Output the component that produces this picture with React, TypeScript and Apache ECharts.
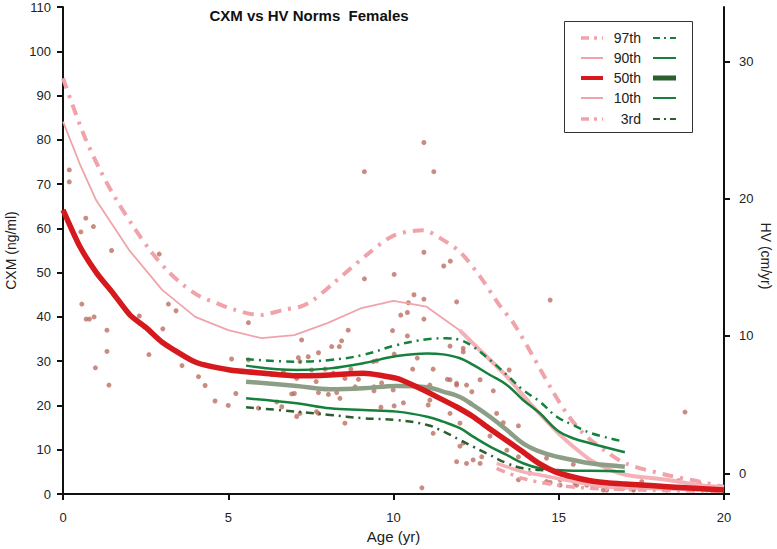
import React, { useEffect, useRef } from "react";
import * as echarts from "echarts";

// ---- CXM percentile curves (left axis, ng/ml) ----
const cxm97Ages = [0, 0.61, 1.12, 1.62, 2.13, 2.63, 3.14, 3.64, 4.15, 4.65, 5.15, 5.96, 6.67, 7.17, 7.57, 8.18, 9.19, 9.99, 10.9, 11.41, 12.01, 12.62, 13.22, 13.63, 14.23, 14.74, 15.24, 15.74, 16.45, 17.06, 18.27, 19.27, 20];
const cxm97Vals = [93.9, 81.5, 73.2, 66.4, 60.4, 55.1, 50.6, 47.2, 44.6, 43.1, 41.7, 40.4, 41.6, 42.3, 43.8, 47.6, 54.0, 58.3, 59.6, 57.8, 54.7, 49.1, 42.5, 38.6, 31.0, 24.2, 18.2, 13.7, 9.5, 6.8, 4.3, 2.8, 1.6];
const cxm90Ages = [0, 0.5, 1, 2, 3, 4, 5, 6, 7, 8, 9, 10, 11, 12];
const cxm90Vals = [84.1, 74.7, 66.4, 55.1, 46.1, 40.0, 37.0, 35.2, 35.9, 38.6, 41.9, 43.6, 42.3, 37.0];
const cxm90LateAges = [12.0, 12.41, 13.43, 14.13, 14.94, 15.44, 15.95, 16.45, 17.05, 18.27, 19.27, 20];
const cxm90LateVals = [37.0, 34.0, 26.5, 20.5, 14.1, 10.7, 7.7, 5.8, 4.3, 3.2, 2.0, 1.6];
const cxm50Ages = [0, 0.51, 1.02, 1.52, 2.03, 2.54, 3.0, 4.0, 5.05, 6.06, 7.07, 8.08, 9.09, 10.1, 10.7, 11.3, 11.9, 12.4, 12.9, 13.4, 13.9, 14.4, 14.9, 15.4, 15.95, 16.45, 17.0, 17.5, 18.27, 20];
const cxm50Vals = [64.2, 55.9, 49.9, 45.3, 40.4, 37.4, 34.3, 29.8, 28.0, 27.3, 26.7, 26.9, 27.3, 26.1, 24.2, 22.0, 19.7, 17.5, 14.8, 12.2, 9.6, 6.9, 5.0, 3.9, 3.0, 2.55, 2.26, 2.03, 1.65, 0.9];
const cxm10Ages = [13.12, 13.92, 14.43, 15.44, 16.45, 17.46, 20];
const cxm10Vals = [6.9, 5.0, 4.3, 2.8, 1.6, 1.3, 0.8];
const cxm3Ages = [13.12, 13.92, 14.94, 15.95, 17.5, 20];
const cxm3Vals = [5.8, 3.5, 2.0, 1.3, 0.9, 0.6];

// ---- HV percentile curves (right axis, cm/yr) ----
const hvAges = [5.54, 7.07, 8.08, 9.08, 10.1, 11.02, 11.5, 12.01, 12.41, 12.92, 13.43, 13.92, 14.43, 14.94, 15.43, 15.95, 17.0];
const hv97Ages = [5.54, 7.07, 8.08, 9.08, 10.1, 11.02, 11.6, 12.01, 12.41, 12.92, 13.43, 13.92, 14.43, 14.94, 15.43, 15.95, 16.85];
const hv97Vals = [8.32, 8.13, 8.25, 8.62, 9.34, 9.76, 9.83, 9.71, 9.22, 8.25, 7.16, 6.07, 5.21, 4.12, 3.52, 2.94, 2.37];
const hv90Vals = [7.84, 7.52, 7.64, 8.01, 8.54, 8.73, 8.66, 8.38, 7.89, 7.16, 6.43, 5.34, 4.37, 3.16, 2.55, 2.19, 1.53];
const hv50Vals = [6.67, 6.36, 6.12, 6.19, 6.36, 6.26, 5.95, 5.56, 4.97, 4.12, 3.15, 2.18, 1.57, 1.21, 0.97, 0.73, 0.48];
const hv10Vals = [5.46, 5.10, 4.73, 4.61, 4.49, 4.12, 3.76, 3.28, 2.67, 1.94, 1.33, 0.73, 0.36, 0.24, 0.19, 0.19, 0.12];
const hv3Ages = [5.54, 7.07, 8.08, 9.08, 10.1, 11.02, 11.5, 12.01, 12.41, 12.92, 13.43, 13.92, 14.43, 14.83];
const hv3Vals = [4.81, 4.49, 4.25, 4.01, 3.88, 3.52, 3.05, 2.43, 1.94, 1.33, 0.73, 0.36, 0.24, 0.19];

// ---- Individual CXM measurements ----
const dotAges = [0.19, 0.19, 0.69, 0.54, 0.92, 1.47, 2.91, 0.57, 0.70, 0.80, 0.94, 2.31, 3.19, 3.42, 5.61, 3.02, 1.33, 0.98, 1.39, 1.33,
  5.1, 5.23, 5.61, 7.22, 8.63, 8.43, 8.13, 8.36, 7.73, 7.42, 7.12, 7.17, 7.52, 7.93, 8.18, 8.71, 6.09, 6.31, 6.67, 7.07,
  7.66, 7.73, 8.03, 8.28, 8.38, 8.84, 8.94, 8.53, 6.92, 7.0, 6.47, 6.62, 5.91, 7.17, 7.07, 7.67, 7.73, 8.53, 9.39, 9.49,
  10.02, 9.97, 10.42, 10.22, 10.42, 10.45, 10.62, 10.92, 10.92, 10.58, 10.72, 11.2, 11.63, 11.1, 9.41, 9.41, 9.64, 9.99, 10.3, 10.02,
  9.62, 11.05, 11.1, 10.92, 9.12, 11.22, 10.92, 9.12, 10.02, 11.52, 11.72, 11.91, 12.11, 12.11, 11.71, 12.62, 13.02, 12.21, 11.91, 12.37,
  12.01, 11.2, 13.12, 13.32, 12.92, 12.11, 12.01, 11.91, 12.21, 12.41, 12.67, 12.62, 13.5, 11.71, 14.74, 11.71, 11.91, 12.33, 13.78, 13.43,
  13.78, 14.63, 15.44, 14.13, 13.78, 14.63, 15.04, 15.24, 15.49, 15.54, 15.85, 16.05, 16.45, 16.95, 17.26, 15.04, 14.74, 16.25, 17.51, 18.62,
  19.25, 16.85, 17.26, 18.27, 19.48, 16.35, 18.82, 10.86, 2.6, 3.6, 4.3, 4.6, 5.0, 4.1];
const dotVals = [73.2, 70.5, 62.3, 59.2, 60.4, 55.0, 54.2, 42.9, 39.5, 39.5, 40.0, 40.2, 42.9, 41.4, 38.7, 37.3, 37.0, 28.5, 24.6, 32.2,
  30.5, 22.7, 30.3, 34.8, 37.0, 34.6, 33.3, 33.3, 31.9, 31.0, 30.8, 29.9, 28.0, 28.2, 27.3, 28.2, 27.3, 27.0, 27.6, 26.1,
  25.4, 22.9, 22.5, 22.9, 21.6, 24.2, 25.9, 26.1, 22.6, 22.7, 20.8, 19.7, 19.4, 18.2, 17.5, 18.6, 18.2, 16.0, 29.9, 30.1,
  31.6, 36.9, 35.7, 40.4, 41.0, 43.2, 45.0, 44.0, 39.5, 28.2, 30.7, 28.2, 25.9, 24.6, 24.2, 23.3, 25.1, 23.5, 20.6, 19.9,
  19.6, 20.1, 21.2, 79.4, 72.8, 72.8, 54.6, 48.6, 49.6, 51.5, 52.6, 43.4, 32.9, 32.1, 33.4, 25.8, 23.3, 24.6, 24.6, 23.1,
  16.0, 13.7, 18.2, 16.1, 13.1, 11.5, 10.8, 7.3, 6.9, 7.7, 8.4, 6.9, 28.0, 18.2, 43.8, 25.8, 25.0, 20.5, 15.4, 9.9,
  8.4, 8.1, 6.7, 4.7, 3.2, 2.8, 3.2, 3.5, 2.4, 2.0, 2.0, 1.6, 0.9, 1.3, 0.9, 2.0, 2.6, 2.0, 2.8, 3.0,
  2.4, 1.3, 1.1, 0.9, 0.9, 0.9, 18.5, 1.4, 31.5, 29.0, 24.5, 21.0, 20.0, 26.5];

// ---- Axis ticks ----
const hvTickLabels = [0, 10, 20, 30];
const hvAxisMin = -1.51;
const hvAxisMax = 33.96;

const zip = (a: number[], b: number[]) => a.map((x, i) => [x, b[i]]);

const FONT = '"Liberation Sans", Arial, sans-serif';
const PINK = "#f1a3ab";
const PINK_LIGHT = "#f4b2b8";
const RED = "#d6191d";
const GREEN = "#16813d";
const DKGREEN = "#2b5f2f";
const GRAY = "#8c9e85";

export default function App() {
  const ref = useRef<HTMLDivElement>(null);
  useEffect(() => {
    if (!ref.current) return;
    const chart = echarts.init(ref.current, null, { renderer: "svg" });
    const line = (name: string, data: number[][], color: string, width: number, axis: number, dash?: number[], smooth: number | boolean = false, z = 3) => ({
      name, type: "line", data, yAxisIndex: axis, showSymbol: false, symbol: "none", smooth, z,
      lineStyle: { color, width, type: dash ? dash : "solid", cap: "butt", join: "round" },
      silent: true,
    });
    const legendRows = [38, 58, 78, 98, 119];
    const legendLabels = ["97th", "90th", "50th", "10th", "3rd"];
    const lg: any[] = [
      { type: "rect", shape: { x: 564.5, y: 21.5, width: 128, height: 111 }, style: { fill: "#fff", stroke: "#333", lineWidth: 1 }, z: 10 },
    ];
    const leftStyles = [
      { stroke: PINK, lineWidth: 3.5, lineDash: [8, 5, 3, 5] },
      { stroke: PINK, lineWidth: 2 },
      { stroke: RED, lineWidth: 4 },
      { stroke: PINK, lineWidth: 2 },
      { stroke: PINK, lineWidth: 3.5, lineDash: [8, 5, 3, 5] },
    ];
    const rightStyles = [
      { stroke: GREEN, lineWidth: 2, lineDash: [7, 4, 2, 4] },
      { stroke: GREEN, lineWidth: 2 },
      { stroke: DKGREEN, lineWidth: 5 },
      { stroke: GREEN, lineWidth: 2 },
      { stroke: DKGREEN, lineWidth: 2, lineDash: [7, 4, 2, 4] },
    ];
    legendRows.forEach((y, i) => {
      lg.push({ type: "line", shape: { x1: 581, y1: y, x2: 603, y2: y }, style: leftStyles[i], z: 11 });
      lg.push({ type: "line", shape: { x1: 653, y1: y, x2: 676, y2: y }, style: rightStyles[i], z: 11 });
      lg.push({
        type: "text", x: 641, y: y, z: 11,
        style: { text: legendLabels[i], font: `14px ${FONT}`, fill: "#222", align: "right", textAlign: "right", verticalAlign: "middle", textVerticalAlign: "middle" },
      });
    });
    lg.push({
      type: "text", x: 309, y: 15, z: 11,
      style: { text: "CXM vs HV Norms  Females", font: `bold 15px ${FONT}`, fill: "#111", align: "center", textAlign: "center", verticalAlign: "middle", textVerticalAlign: "middle" },
    });
    lg.push({
      type: "text", x: 766, y: 256, rotation: -Math.PI / 2, z: 11,
      style: { text: "HV (cm/yr)", font: `14px ${FONT}`, fill: "#222", align: "center", textAlign: "center", verticalAlign: "middle", textVerticalAlign: "middle" },
    });

    const axisCommon = {
      axisLine: { show: true, lineStyle: { color: "#111", width: 2 } },
      axisTick: { show: true, length: 6, lineStyle: { color: "#111", width: 2 } },
      splitLine: { show: false },
    };

    chart.setOption({
      animation: false,
      backgroundColor: "#fff",
      textStyle: { fontFamily: FONT },
      grid: { left: 63, right: 53, top: 7, bottom: 55, containLabel: false, outerBoundsMode: "none" },
      xAxis: {
        type: "value", min: 0, max: 20, interval: 5, ...axisCommon,
        axisLabel: { margin: 17, fontSize: 13, color: "#222", fontFamily: FONT },
        name: "Age (yr)", nameLocation: "middle", nameGap: 35,
        nameTextStyle: { fontSize: 15, color: "#222", fontFamily: FONT },
      },
      yAxis: [
        {
          type: "value", min: 0, max: 110, interval: 10, position: "left", ...axisCommon,
          axisLabel: { margin: 12, fontSize: 13, color: "#222", fontFamily: FONT },
          name: "CXM (ng/ml)", nameLocation: "middle", nameGap: 43, nameRotate: 90,
          nameTextStyle: { fontSize: 14, color: "#222", fontFamily: FONT },
        },
        {
          type: "value", min: hvAxisMin, max: hvAxisMax, position: "right", ...axisCommon,
          axisTick: { show: true, length: 6, lineStyle: { color: "#111", width: 2 }, customValues: [hvAxisMin, ...hvTickLabels] },
          axisLabel: { margin: 15, fontSize: 13, color: "#222", fontFamily: FONT, customValues: hvTickLabels },
        },
      ],
      graphic: { elements: lg },
      series: [
        {
          name: "CXM", type: "scatter", yAxisIndex: 0, data: zip(dotAges, dotVals), symbolSize: 5, z: 2, silent: true,
          itemStyle: { color: "#b86c5d", opacity: 0.78 },
        },
        line("CXM 97th", zip(cxm97Ages, cxm97Vals), PINK, 4, 0, [11, 7, 3, 7], 0.3),
        line("CXM 90th", zip(cxm90Ages, cxm90Vals), PINK, 1.8, 0),
        line("CXM 90th late", zip(cxm90LateAges, cxm90LateVals), PINK_LIGHT, 4, 0, undefined, 0.3),
        line("CXM 10th", zip(cxm10Ages, cxm10Vals), PINK_LIGHT, 3.5, 0, undefined, 0.3),
        line("CXM 3rd", zip(cxm3Ages, cxm3Vals), PINK, 3.5, 0, [9, 6, 3, 6], 0.3),
        line("HV 97th", zip(hv97Ages, hv97Vals), GREEN, 2.5, 1, [8, 5, 2, 5], 0.4),
        line("HV 90th", zip(hvAges, hv90Vals), GREEN, 2.5, 1, undefined, 0.4),
        line("HV 50th", zip(hvAges, hv50Vals), GRAY, 4.5, 1, undefined, 0.4),
        line("HV 10th", zip(hvAges, hv10Vals), GREEN, 2.5, 1, undefined, 0.4),
        line("HV 3rd", zip(hv3Ages, hv3Vals), DKGREEN, 2.5, 1, [8, 5, 2, 5], 0.4),
        line("CXM 50th", zip(cxm50Ages, cxm50Vals), RED, 5.5, 0, undefined, 0.2, 4),
      ],
    });
    return () => chart.dispose();
  }, []);
  return <div ref={ref} style={{ width: 777, height: 549, position: "absolute", left: 0, top: 0 }} />;
}
